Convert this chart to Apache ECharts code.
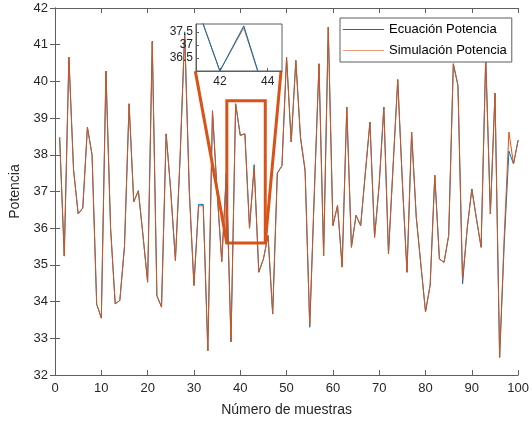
<!DOCTYPE html>
<html>
<head>
<meta charset="utf-8">
<script src="https://cdn.jsdelivr.net/npm/echarts@6/dist/echarts.min.js"></script>
<style>
html,body{margin:0;padding:0;background:#fff;}
#chart{width:532px;height:423px;}
</style>
</head>
<body>
<div id="chart"></div>
<script>
// Sample indices 1..100
const muestras = Array.from({length: 100}, (_, i) => i + 1);

// Simulación Potencia (orange)
const simulacion = [
  38.48, 35.24, 40.66, 37.60, 36.39, 36.55, 38.75, 38.00, 33.93, 33.55,
  40.28, 36.00, 33.94, 34.03, 35.50, 39.39, 36.72, 37.02, 35.80, 34.53,
  41.07, 34.16, 33.85, 38.57, 37.00, 35.12, 37.90, 41.30, 37.00, 34.44,
  36.60, 36.62, 32.66, 39.20, 37.00, 35.09, 37.50, 32.90, 39.39, 38.53,
  38.57, 36.00, 37.66, 34.80, 35.16, 35.80, 33.66, 37.50, 37.70, 40.66,
  38.35, 40.57, 38.50, 37.60, 33.35, 37.00, 40.48, 35.25, 41.48, 36.07,
  36.62, 34.94, 39.30, 35.48, 36.35, 36.07, 37.50, 38.89, 35.75, 37.20,
  39.30, 35.30, 37.70, 40.05, 37.25, 34.80, 38.62, 36.30, 35.00, 33.72,
  34.45, 37.44, 35.16, 35.07, 35.80, 40.48, 39.89, 34.60, 36.00, 37.07,
  36.25, 35.48, 40.67, 36.39, 39.68, 32.48, 35.80, 38.62, 37.75, 38.40
];

// Ecuación Potencia (blue)
const ecuacion = [
  38.48, 35.24, 40.66, 37.60, 36.39, 36.55, 38.75, 38.00, 33.93, 33.55,
  40.28, 36.00, 33.94, 34.03, 35.50, 39.39, 36.72, 37.02, 35.80, 34.53,
  41.10, 34.16, 33.85, 38.57, 37.00, 35.12, 37.90, 41.35, 37.00, 34.44,
  36.65, 36.65, 32.66, 39.20, 37.00, 35.09, 37.50, 32.90, 39.39, 38.53,
  38.57, 36.00, 37.73, 34.80, 35.16, 35.80, 33.66, 37.50, 37.70, 40.66,
  38.35, 40.57, 38.45, 37.55, 33.30, 37.00, 40.48, 35.25, 41.48, 36.07,
  36.62, 34.94, 39.30, 35.48, 36.35, 36.07, 37.50, 38.89, 35.75, 37.20,
  39.30, 35.30, 37.70, 40.05, 37.25, 34.80, 38.62, 36.30, 35.00, 33.72,
  34.45, 37.44, 35.16, 35.07, 35.80, 40.48, 39.89, 34.48, 36.00, 37.07,
  36.25, 35.48, 40.67, 36.39, 39.68, 32.48, 35.60, 38.10, 37.75, 38.40
];

const xTicks = [0, 10, 20, 30, 40, 50, 60, 70, 80, 90, 100];
const yTicks = [32, 33, 34, 35, 36, 37, 38, 39, 40, 41, 42];
const insetXTicks = [42, 44];
const insetYTicks = [36.5, 37, 37.5];

// Zoom annotation (data coordinates of main axes)
const zoomRectX = [37.1, 45.4];
const zoomRectY = [35.6, 39.47];
const insetCornersX = [30.3, 48.8];
const insetCornerY = 40.28;

const BLUE = '#0072BD';
const ORANGE = '#D95319';
const AXIS = '#5f5f5f';
const TEXT = '#262626';
const FONT = 'Liberation Sans, Arial, Helvetica, sans-serif';

const pair = (arr) => arr.map((v, i) => [muestras[i], v]);

const chart = echarts.init(document.getElementById('chart'), null, {renderer: 'canvas'});

const mainAxisCommon = {
  axisLine: {show: true, lineStyle: {color: AXIS, width: 1}},
  axisTick: {show: true, inside: true, length: 5, lineStyle: {color: AXIS}},
  splitLine: {show: false},
};

const option = {
  animation: false,
  backgroundColor: '#fff',
  textStyle: {fontFamily: FONT},
  grid: [
    {left: 55, right: 11, top: 8, bottom: 48, show: false},
    {left: 196, top: 24, width: 86, height: 47, show: true, backgroundColor: '#fff',
     borderColor: AXIS, borderWidth: 1, z: 20}
  ],
  legend: {
    left: 340, top: 18,
    orient: 'vertical',
    backgroundColor: '#fff',
    borderColor: AXIS, borderWidth: 1,
    padding: [4, 5, 4, 3],
    itemGap: 6,
    itemWidth: 41, itemHeight: 1.2,
    icon: 'rect',
    textStyle: {fontSize: 13, color: '#000', fontFamily: FONT, lineHeight: 15},
    data: [
      {name: 'Ecuación Potencia', icon: 'rect', itemStyle: {color: BLUE}},
      {name: 'Simulación Potencia', icon: 'rect', itemStyle: {color: '#EC9E7E'}}
    ],
    z: 30
  },
  xAxis: [
    Object.assign({}, mainAxisCommon, {
      type: 'value', gridIndex: 0, min: 0, max: 100, interval: 10,
      name: 'Número de muestras', nameLocation: 'middle', nameGap: 28,
      nameTextStyle: {fontSize: 14, color: TEXT, fontFamily: FONT},
      axisLabel: {fontSize: 13, color: TEXT, margin: 7, fontFamily: FONT,
        customValues: xTicks},
      axisTick: {show: true, inside: true, length: 5, lineStyle: {color: AXIS}, customValues: xTicks}
    }),
    Object.assign({}, mainAxisCommon, {
      type: 'value', gridIndex: 0, min: 0, max: 100, interval: 10, position: 'top',
      axisLabel: {show: false}
    }),
    {
      type: 'value', gridIndex: 1, min: 41, max: 44.6,
      axisLine: {show: true, lineStyle: {color: AXIS}},
      axisTick: {show: true, inside: true, length: 3, lineStyle: {color: AXIS}, customValues: insetXTicks},
      axisLabel: {fontSize: 12, color: TEXT, margin: 5, customValues: insetXTicks, fontFamily: FONT},
      splitLine: {show: false}, z: 25
    }
  ],
  yAxis: [
    Object.assign({}, mainAxisCommon, {
      type: 'value', gridIndex: 0, min: 32, max: 42, interval: 1,
      name: 'Potencia', nameLocation: 'middle', nameGap: 23, nameRotate: 90,
      nameTextStyle: {fontSize: 14, color: TEXT, fontFamily: FONT},
      axisLabel: {fontSize: 13, color: TEXT, margin: 7, fontFamily: FONT,
        customValues: yTicks},
      axisTick: {show: true, inside: true, length: 5, lineStyle: {color: AXIS}, customValues: yTicks}
    }),
    Object.assign({}, mainAxisCommon, {
      type: 'value', gridIndex: 0, min: 32, max: 42, interval: 1, position: 'right',
      axisLabel: {show: false}
    }),
    {
      type: 'value', gridIndex: 1, min: 36, max: 37.8,
      axisLine: {show: true, lineStyle: {color: AXIS}},
      axisTick: {show: true, inside: true, length: 3, lineStyle: {color: AXIS}, customValues: insetYTicks},
      axisLabel: {fontSize: 12, color: TEXT, margin: 3, customValues: insetYTicks, fontFamily: FONT},
      splitLine: {show: false}, z: 25
    }
  ],
  series: [
    {
      name: 'Ecuación Potencia', type: 'line', xAxisIndex: 0, yAxisIndex: 0,
      data: pair(ecuacion), symbol: 'none', showSymbol: false,
      lineStyle: {color: BLUE, width: 1}, itemStyle: {color: BLUE}, z: 2
    },
    {
      name: 'Simulación Potencia', type: 'line', xAxisIndex: 0, yAxisIndex: 0,
      data: pair(simulacion), symbol: 'none', showSymbol: false,
      lineStyle: {color: ORANGE, width: 1}, itemStyle: {color: ORANGE}, z: 3,
      markArea: {
        silent: true,
        itemStyle: {color: 'rgba(0,0,0,0)', borderColor: ORANGE, borderWidth: 3},
        data: [[{coord: [zoomRectX[0], zoomRectY[1]]}, {coord: [zoomRectX[1], zoomRectY[0]]}]]
      },
      markLine: {
        silent: true, symbol: 'none',
        lineStyle: {color: ORANGE, width: 3, type: 'solid'},
        label: {show: false},
        data: [
          [{coord: [insetCornersX[0], insetCornerY]}, {coord: [zoomRectX[0], zoomRectY[0]]}],
          [{coord: [insetCornersX[1], insetCornerY]}, {coord: [zoomRectX[1], zoomRectY[0]]}]
        ]
      }
    },
    {
      name: 'Simulación Potencia', type: 'line', xAxisIndex: 2, yAxisIndex: 2,
      data: pair(simulacion), symbol: 'none', showSymbol: false, clip: true,
      lineStyle: {color: ORANGE, width: 1}, z: 21
    },
    {
      name: 'Ecuación Potencia', type: 'line', xAxisIndex: 2, yAxisIndex: 2,
      data: pair(ecuacion), symbol: 'none', showSymbol: false, clip: true,
      lineStyle: {color: BLUE, width: 1}, z: 22
    }
  ]
};

chart.setOption(option);
</script>
</body>
</html>
